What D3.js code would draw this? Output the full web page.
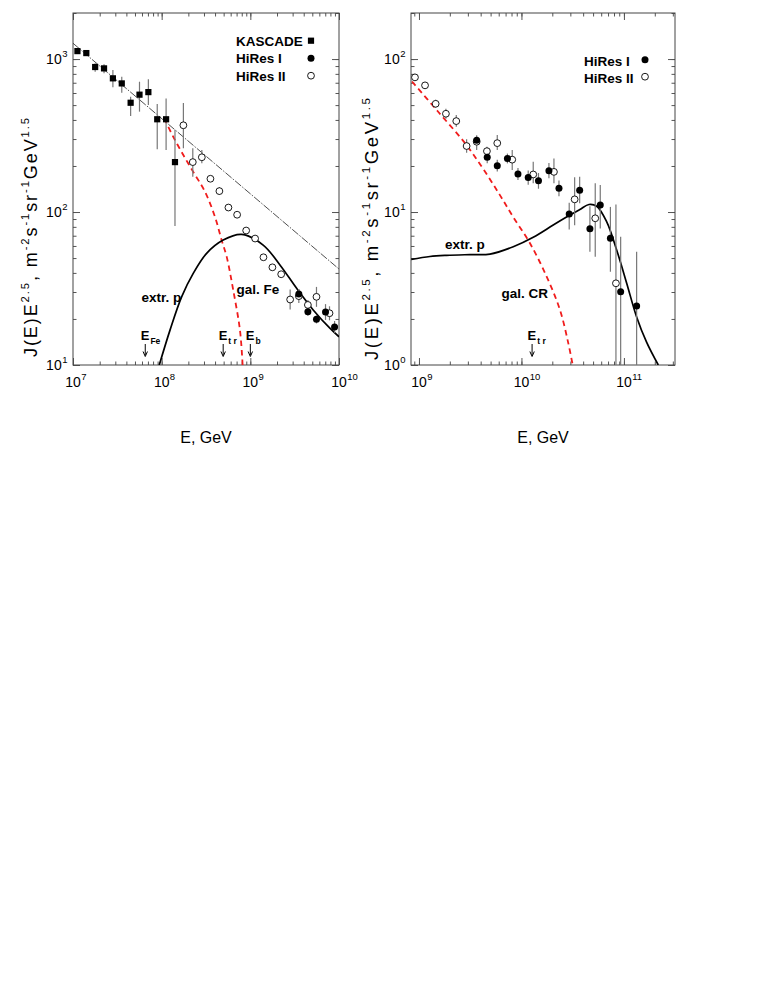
<!DOCTYPE html>
<html><head><meta charset="utf-8">
<script src="https://cdn.jsdelivr.net/npm/d3@7"></script>
<style>
body{margin:0;background:#fff}
text{font-family:"Liberation Sans",Arial,Helvetica,sans-serif;fill:#000}
</style>
</head><body>
<svg id="c" width="763" height="987"></svg>
<script>
// ---------- DATA ----------
// Left panel: KASCADE (squares)
const kascadeE  = [1.122e7,1.413e7,1.778e7,2.239e7,2.818e7,3.548e7,4.467e7,5.623e7,7.079e7,8.913e7,1.122e8,1.413e8];
const kascadeJ  = [1127,1094,887,869,748,693,518,585,608,404,404,212];
const kascadeHi = [1160,1125,937,923,847,766,568,711,737,508,553,344];
const kascadeLo = [1095,1063,826,807,653,602,424,453,500,257,254,81];
// Left panel: HiRes II (open circles)
const hires2LE  = [1.758e8,2.244e8,2.838e8,3.548e8,4.477e8,5.662e8,7.096e8,8.974e8,1.132e9,1.406e9,1.774e9,2.228e9,2.812e9,3.524e9,4.457e9,5.572e9,7.816e9];
const hires2LJ  = [369,212,228,165,137,107,96,75.7,67.1,50.6,43.5,39.2,26.8,28.2,24.7,27.9,21.8];
const hires2LHi = [516,261,254,172,146,112,100,79,70,53,45.5,41,31.1,31.3,26.6,32.4,24.2];
const hires2LLo = [261,170,208,158,129,102,92,72.5,64.2,48.4,41.6,37.5,23.1,25.4,22.9,24.0,19.6];
// Left panel: HiRes I (filled circles)
const hires1LE  = [3.524e9,4.457e9,5.572e9,7.047e9,8.913e9];
const hires1LJ  = [29.1,22.3,19.9,22.2,17.7];
const hires1LHi = [31.4,23.7,21.1,25.0,19.4];
const hires1LLo = [27.0,21.0,18.7,19.7,16.2];
// Left panel curves
const powerLawE = [1e7,1e10];
const powerLawJ = [1268,42.4];
const galFeE = [1.069e8,1.352e8,1.754e8,2.270e8,3.076e8,3.990e8,4.742e8,5.408e8,6.412e8,7.638e8,8.185e8];
const galFeJ = [409,310,236,183,136,93.1,65.6,51.1,30.9,16.9,10.0];
const extrPLE = [9.397e7,1.242e8,1.679e8,2.270e8,3.214e8,4.943e8,7.980e8,1.396e9,2.158e9,3.327e9,5.117e9,7.889e9,1e10];
const extrPLJ = [10.0,16.9,27.9,39.7,53.7,65.6,71.4,60.8,45.1,31.7,22.9,17.4,15.3];
// Left panel annotations (energies of arrows)
const leftArrowE = [6.53e7,4.94e8,1e9];
const leftArrowLabel = [["E","Fe"],["E","t r"],["E","b"]];

// Right panel: HiRes II (open)
const hires2RE  = [9.14e8,1.146e9,1.455e9,1.832e9,2.312e9,2.917e9,3.656e9,4.603e9,5.808e9,8.128e9,1.303e10,2.075e10,3.304e10,5.248e10,8.356e10];
const hires2RJ  = [75.9,67.3,51.0,43.9,39.3,27.0,28.8,25.0,28.2,22.0,17.6,18.3,12.1,9.1,3.42];
const hires2RHi = [79.4,70.4,54.2,47.3,43.0,29.9,31.0,26.7,31.9,25.4,21.3,22.4,16.9,15.4,11.2];
const hires2RLo = [72.6,64.3,48.0,40.7,36.1,24.4,25.4,23.6,25.4,18.8,15.4,15.4,8.2,5.1,0.5];
// Right panel: HiRes I (filled)
const hires1RE  = [3.656e9,4.634e9,5.808e9,7.295e9,9.247e9,1.164e10,1.466e10,1.854e10,2.323e10,2.924e10,3.698e10,4.656e10,5.875e10,7.379e10,9.29e10,1.33e11];
const hires1RJ  = [29.5,22.8,20.1,22.4,17.7,16.8,16.0,18.6,14.3,9.7,13.9,7.78,11.1,6.74,3.01,2.43];
const hires1RHi = [31.8,24.9,22.0,24.1,19.4,18.7,18.0,20.9,16.1,11.5,17.0,10.9,15.0,10.8,6.9,5.5];
const hires1RLo = [27.4,20.8,18.4,20.8,16.2,15.1,14.2,16.6,12.7,7.7,11.4,5.5,7.8,4.07,0.5,0.5];
// Right panel curves
const galCRE = [8.551e8,1.531e9,2.812e9,4.305e9,6.166e9,8.260e9,1.211e10,1.762e10,2.377e10,2.864e10,3.162e10];
const galCRJ = [71.3,45.4,28.2,18.8,12.9,9.33,6.25,3.78,2.29,1.39,1.0];
const extrPRE = [8.40e8,1.279e9,1.862e9,3.148e9,4.932e9,8.318e9,1.303e10,2.042e10,2.972e10,3.724e10,4.560e10,5.420e10,6.776e10,8.492e10,1.062e11,1.330e11,1.663e11,2.163e11];
const extrPRJ = [4.90,5.12,5.21,5.27,5.31,5.93,6.84,8.22,9.55,10.4,11.2,10.9,8.65,5.65,3.44,2.06,1.41,1.0];
const rightArrowE = [1.27e10];
const rightArrowLabel = [["E","t r"]];

// Tick labels
const leftXTicks = [1e7,1e8,1e9,1e10];   const leftXExp = ["7","8","9","10"];
const leftYTicks = [10,100,1000];        const leftYExp = ["1","2","3"];
const rightXTicks = [1e9,1e10,1e11];     const rightXExp = ["9","10","11"];
const rightYTicks = [1,10,100];          const rightYExp = ["0","1","2"];

// ---------- DRAWING ----------
const svg = d3.select("#c");

function panel(opts){
  const {id,x,y,xTicks,xExp,yTicks,yExp} = opts;
  const [x0,x1] = x.range(), [y0,y1] = y.range();
  const g = svg.append("g");
  g.append("clipPath").attr("id",id).append("rect")
    .attr("x",x0).attr("y",y1).attr("width",x1-x0).attr("height",y0-y1);
  const minorX = x.ticks(), minorY = y.ticks();
  const ax = g.append("g").attr("color","#555");
  const mk = (axis, tr, vals, size) => {
    const a = ax.append("g").attr("transform",tr)
      .call(axis.tickValues(vals).tickSize(size).tickFormat(""));
    a.select(".domain").remove();
    a.selectAll("line").attr("stroke-width",1);
  };
  [[minorX,-3.5],[xTicks,-7]].forEach(([v,s])=>{
    mk(d3.axisBottom(x),`translate(0,${y0})`,v,s);
    mk(d3.axisTop(x),`translate(0,${y1})`,v,s);
  });
  [[minorY,-3.5],[yTicks,-7]].forEach(([v,s])=>{
    mk(d3.axisLeft(y),`translate(${x0},0)`,v,s);
    mk(d3.axisRight(y),`translate(${x1},0)`,v,s);
  });
  g.append("rect").attr("x",x0).attr("y",y1).attr("width",x1-x0).attr("height",y0-y1)
    .attr("fill","none").attr("stroke","#444").attr("stroke-width",1);
  xTicks.forEach((v,i)=>{
    const cx = x(v);
    g.append("text").attr("x",cx).attr("y",y0+22).attr("text-anchor","middle")
      .attr("font-size",14).text("10");
    g.append("text").attr("x",cx+8.2).attr("y",y0+15).attr("font-size",9.5).text(xExp[i]);
  });
  yTicks.forEach((v,i)=>{
    const cy = y(v);
    const supW = yExp[i].length*5.3;
    g.append("text").attr("x",x0-6-supW).attr("y",cy+5).attr("text-anchor","end")
      .attr("font-size",14).text("10");
    g.append("text").attr("x",x0-5.5-supW).attr("y",cy-2).attr("font-size",9.5).text(yExp[i]);
  });
  g.append("text").attr("x",(x0+x1)/2).attr("y",443).attr("text-anchor","middle")
    .attr("font-size",16).text("E, GeV");
  return g;
}

function yTitle(tx,ty,fs,len){
  const t = svg.append("text").attr("transform",`translate(${tx},${ty}) rotate(-90)`)
    .attr("font-size",fs).attr("textLength",len).attr("lengthAdjust","spacing");
  const parts = [["J(E)E",0],["2.5",1],[", m",0],["-2",1],["s",0],["-1",1],["sr",0],["-1",1],["GeV",0],["1.5",1]];
  let prevSup = 0;
  parts.forEach(([s,sup])=>{
    const dy = sup ? -fs*0.42 : (prevSup ? fs*0.42 : 0);
    t.append("tspan").attr("dy",dy).attr("font-size",sup?fs*0.62:fs).text(s);
    prevSup = sup;
  });
}

function drawData(g, x, y, clip, E, J, lo, hi){
  const data = d3.range(E.length).map(i=>({e:E[i],j:J[i],lo:lo[i],hi:hi[i]}));
  const cg = g.append("g").attr("clip-path",`url(#${clip})`);
  cg.selectAll(null).data(data).join("line")
    .attr("x1",d=>x(d.e)).attr("x2",d=>x(d.e))
    .attr("y1",d=>y(d.lo)).attr("y2",d=>y(d.hi))
    .attr("stroke","#777").attr("stroke-width",1.2);
}
function marker(sel, type){
  if(type==="square"){
    sel.append("rect").attr("x",-3.1).attr("y",-3.1).attr("width",6.2).attr("height",6.2).attr("fill","#000");
  } else if(type==="filled"){
    sel.append("circle").attr("r",3.5).attr("fill","#000");
  } else {
    sel.append("circle").attr("r",3.4).attr("fill","#fff").attr("stroke","#000").attr("stroke-width",0.9);
  }
}
function drawMarkers(g,x,y,E,J,type,clip){
  const data = d3.range(E.length).map(i=>({e:E[i],j:J[i]}));
  const mg = g.append("g").attr("clip-path",`url(#${clip})`);
  mg.selectAll(null).data(data).join("g")
    .attr("transform",d=>`translate(${x(d.e)},${y(d.j)})`)
    .each(function(){ marker(d3.select(this),type); });
}
function curve(g,x,y,E,J,clip,style){
  const pts = d3.zip(E,J);
  const line = d3.line().x(d=>x(d[0])).y(d=>y(d[1])).curve(d3.curveCatmullRom.alpha(0.5));
  g.append("path").attr("clip-path",`url(#${clip})`).attr("d",line(pts))
    .attr("fill","none").attr("stroke",style.color).attr("stroke-width",style.w)
    .attr("stroke-dasharray",style.dash||null);
}
function label(g,xp,yp,txt,fs){
  g.append("text").attr("x",xp).attr("y",yp).attr("font-size",fs||13.5)
    .attr("font-weight","bold").text(txt);
}
function arrows(g,x,E,L){
  E.forEach((e,i)=>{
    const ax = x(e);
    g.append("line").attr("x1",ax).attr("x2",ax).attr("y1",344).attr("y2",355)
      .attr("stroke","#000").attr("stroke-width",1);
    g.append("path").attr("d",`M${ax-2.2},${351.5}L${ax},${356.5}L${ax+2.2},${351.5}`)
      .attr("fill","none").attr("stroke","#000").attr("stroke-width",1);
    const t = g.append("text").attr("x",ax-4.5).attr("y",340).attr("font-weight","bold").attr("font-size",13);
    t.append("tspan").text(L[i][0]);
    t.append("tspan").attr("dy",4).attr("font-size",8.5).attr("dx",1).text(L[i][1]);
  });
}

// ----- Left panel -----
const lx = d3.scaleLog().domain([1e7,1e10]).range([73,339]);
const ly = d3.scaleLog().domain([10,2000]).range([365,13]);
const gl = panel({id:"clipL",x:lx,y:ly,xTicks:leftXTicks,xExp:leftXExp,yTicks:leftYTicks,yExp:leftYExp});
curve(gl,lx,ly,powerLawE,powerLawJ,"clipL",{color:"#222",w:0.8,dash:"8,1.5,1.5,1.5"});
curve(gl,lx,ly,galFeE,galFeJ,"clipL",{color:"#f01c1c",w:1.8,dash:"5.5,4"});
curve(gl,lx,ly,extrPLE,extrPLJ,"clipL",{color:"#000",w:1.7});
drawData(gl,lx,ly,"clipL",kascadeE,kascadeJ,kascadeLo,kascadeHi);
drawData(gl,lx,ly,"clipL",hires2LE,hires2LJ,hires2LLo,hires2LHi);
drawData(gl,lx,ly,"clipL",hires1LE,hires1LJ,hires1LLo,hires1LHi);
drawMarkers(gl,lx,ly,kascadeE,kascadeJ,"square","clipL");
drawMarkers(gl,lx,ly,hires2LE,hires2LJ,"open","clipL");
drawMarkers(gl,lx,ly,hires1LE,hires1LJ,"filled","clipL");
const legL = [["KASCADE","square"],["HiRes I","filled"],["HiRes II","open"]];
legL.forEach(([t,ty],i)=>{
  const by = 45.7 + i*17.5;
  label(gl,236,by,t,13.5);
  const m = gl.append("g").attr("transform",`translate(311,${by-5})`); marker(m,ty);
});
label(gl,141.5,302,"extr. p",13.5);
label(gl,236.5,293.5,"gal. Fe",13.5);
arrows(gl,lx,leftArrowE,leftArrowLabel);
yTitle(37,357,18,239);

// ----- Right panel -----
const rx = d3.scaleLog().domain([8.36e8,3.15e11]).range([411,675]);
const ry = d3.scaleLog().domain([1,200]).range([365,13]);
const gr = panel({id:"clipR",x:rx,y:ry,xTicks:rightXTicks,xExp:rightXExp,yTicks:rightYTicks,yExp:rightYExp});
curve(gr,rx,ry,galCRE,galCRJ,"clipR",{color:"#f01c1c",w:1.8,dash:"5.5,4"});
curve(gr,rx,ry,extrPRE,extrPRJ,"clipR",{color:"#000",w:1.7});
drawData(gr,rx,ry,"clipR",hires2RE,hires2RJ,hires2RLo,hires2RHi);
drawData(gr,rx,ry,"clipR",hires1RE,hires1RJ,hires1RLo,hires1RHi);
drawMarkers(gr,rx,ry,hires2RE,hires2RJ,"open","clipR");
drawMarkers(gr,rx,ry,hires1RE,hires1RJ,"filled","clipR");
const legR = [["HiRes I","filled"],["HiRes II","open"]];
legR.forEach(([t,ty],i)=>{
  const by = 65.7 + i*17;
  label(gr,584,by,t,13.5);
  const m = gr.append("g").attr("transform",`translate(645,${by-6})`); marker(m,ty);
});
label(gr,445,249,"extr. p",13.5);
label(gr,501.5,297.5,"gal. CR",13.5);
arrows(gr,rx,rightArrowE,rightArrowLabel);
yTitle(378,360,18.5,262);
</script>
</body></html>
